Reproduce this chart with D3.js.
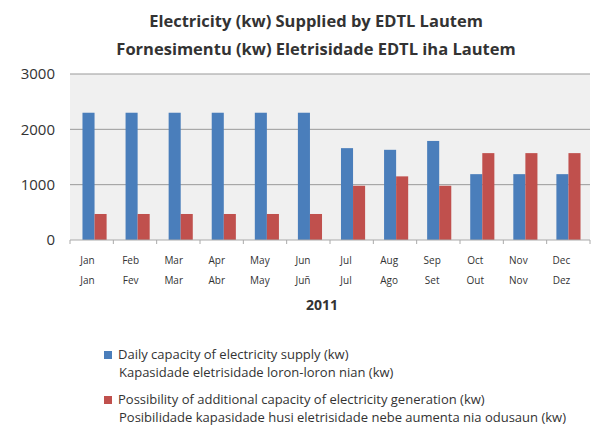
<!DOCTYPE html>
<html lang="en">
<head>
<meta charset="UTF-8">
<title>EDTL Lautem</title>
<script src="https://d3js.org/d3.v7.min.js"></script>
<style>
  body { margin: 0; background: #fff; }
  text { font-family: "Open Sans", "DejaVu Sans", sans-serif; fill: #333; }
</style>
</head>
<body>
<script>
    // data
    var months_en = ['Jan','Feb','Mar','Apr','May','Jun','Jul','Aug','Sep','Oct','Nov','Dec'];
    var months_tet = ['Jan','Fev','Mar','Abr','May','Juñ','Jul','Ago','Set','Out','Nov','Dez'];
    var daily_supply = [2300, 2300, 2300, 2300, 2300, 2300, 1660, 1630, 1790, 1190, 1190, 1190];
    var additional = [470, 470, 470, 470, 470, 470, 980, 1150, 980, 1570, 1570, 1570];
    var y_ticks = [0, 1000, 2000, 3000];
    var series_names = [
        ['Daily capacity of electricity supply (kw)', 'Kapasidade eletrisidade loron-loron  nian (kw)'],
        ['Possibility of additional capacity of electricity generation (kw)', 'Posibilidade kapasidade husi eletrisidade nebe aumenta nia odusaun (kw)']
    ];
    var colors = ['#4a7ebb', '#c0504d'];

    var width = 612, height = 429;
    // plot area (don't use "top" - clashes with window.top)
    var px0 = 70, px1 = 590, py0 = 74, py1 = 240;

    var svg = d3.select('body').append('svg')
        .attr('width', width)
        .attr('height', height);

    // title
    svg.append('text').attr('x', 316).attr('y', 27).attr('text-anchor', 'middle')
        .style('font-size', '16.5px').style('font-weight', 'bold')
        .text('Electricity (kw) Supplied by EDTL Lautem');
    svg.append('text').attr('x', 316).attr('y', 55).attr('text-anchor', 'middle')
        .style('font-size', '16.5px').style('font-weight', 'bold')
        .text('Fornesimentu (kw) Eletrisidade EDTL iha Lautem');

    var x = d3.scaleBand().domain(d3.range(12)).range([px0 + 3, px1]).paddingInner(0.44).paddingOuter(0.22);
    var y = d3.scaleLinear().domain([0, 3000]).range([py1, py0]);

    // plot background
    svg.append('rect').attr('x', px0).attr('y', py0)
        .attr('width', px1 - px0).attr('height', py1 - py0)
        .attr('fill', '#f0f0f0');

    // gridlines
    svg.selectAll('.grid').data(y_ticks.slice(1)).enter().append('line')
        .attr('x1', px0).attr('x2', px1)
        .attr('y1', function (d) { return y(d); })
        .attr('y2', function (d) { return y(d); })
        .attr('stroke', '#999').attr('stroke-width', 1);

    // y axis labels
    var yAxis = d3.axisLeft(y).tickValues(y_ticks).tickSize(0).tickPadding(15).tickFormat(d3.format('d'));
    var ya = svg.append('g').attr('transform', 'translate(' + px0 + ',0)').call(yAxis);
    ya.select('.domain').remove();
    ya.selectAll('text').style('font-size', '15px').style('fill', '#333')
        .style('font-family', '"Open Sans", sans-serif');

    // bars
    var bw = x.bandwidth() / 2;
    var groups = svg.selectAll('.month').data(d3.range(12)).enter().append('g')
        .attr('transform', function (i) { return 'translate(' + x(i) + ',0)'; });
    groups.append('rect')
        .attr('x', 0).attr('width', bw)
        .attr('y', function (i) { return y(daily_supply[i]); })
        .attr('height', function (i) { return py1 - y(daily_supply[i]); })
        .attr('fill', colors[0]);
    groups.append('rect')
        .attr('x', bw).attr('width', bw)
        .attr('y', function (i) { return y(additional[i]); })
        .attr('height', function (i) { return py1 - y(additional[i]); })
        .attr('fill', colors[1]);

    // x axis line and ticks between categories
    svg.append('line').attr('x1', px0).attr('x2', px1).attr('y1', py1).attr('y2', py1)
        .attr('stroke', '#aaa');
    var step = (px1 - px0) / 12;
    svg.selectAll('.xtick').data(d3.range(13)).enter().append('line')
        .attr('x1', function (d) { return px0 + d * step; })
        .attr('x2', function (d) { return px0 + d * step; })
        .attr('y1', py1).attr('y2', py1 + 4)
        .attr('stroke', '#aaa');

    // x labels, two languages
    var lab = svg.selectAll('.xlab').data(d3.range(12)).enter().append('text')
        .attr('text-anchor', 'middle')
        .style('font-size', '10px');
    lab.append('tspan')
        .attr('x', function (i) { return x(i) + x.bandwidth() / 2 - 7; })
        .attr('y', 264)
        .text(function (i) { return months_en[i]; });
    lab.append('tspan')
        .attr('x', function (i) { return x(i) + x.bandwidth() / 2 - 7; })
        .attr('y', 284)
        .text(function (i) { return months_tet[i]; });

    svg.append('text').attr('x', 322).attr('y', 310).attr('text-anchor', 'middle')
        .style('font-size', '14px').style('font-weight', 'bold').text('2011');

    // legend
    var leg = svg.selectAll('.leg').data(series_names).enter().append('g')
        .attr('transform', function (d, i) { return 'translate(104,' + (355 + i * 45) + ')'; });
    leg.append('rect').attr('x', 0).attr('y', -4).attr('width', 8).attr('height', 8)
        .attr('fill', function (d, i) { return colors[i]; });
    leg.append('text').attr('x', 14).attr('y', 4).style('font-size', '13px')
        .text(function (d) { return d[0]; });
    leg.append('text').attr('x', 15).attr('y', 22).style('font-size', '13px')
        .text(function (d) { return d[1]; });
</script>
</body>
</html>
